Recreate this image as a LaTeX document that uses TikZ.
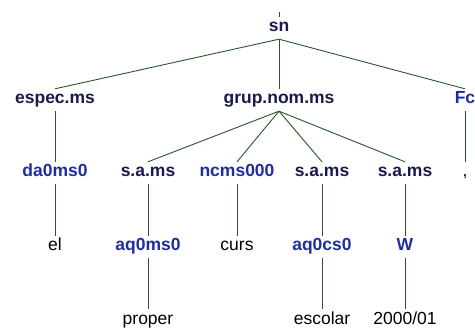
\documentclass[tikz,border=0pt]{standalone}
\usepackage{fontspec}
\setmainfont{Liberation Sans}
\definecolor{catcol}{RGB}{26,26,77}
\definecolor{tagcol}{RGB}{31,45,160}
\definecolor{linecol}{RGB}{40,85,40}
\tikzset{
mynode/.style={
  inner sep=0pt,
  text height=12pt,
  text depth=4pt,
  minimum height=22pt,
  font=\fontsize{17.5}{20}\selectfont
  },
cat/.style={mynode,text=catcol,font=\fontsize{17.5}{20}\selectfont\bfseries},
tag/.style={mynode,text=tagcol,font=\fontsize{17.5}{20}\selectfont\bfseries},
word/.style={mynode,text=black}
}
\begin{document}
\begin{tikzpicture}[x=1pt,y=-1pt]
\useasboundingbox (0,0) rectangle (475,329);

\coordinate (top) at (279,12);
\node[cat] (sn) at (279,28) {sn};

\node[cat] (espec) at (55,100) {espec.ms};
\node[cat] (grup) at (279,100) {grup.nom.ms};
\node[tag] (fc) at (465,100) {Fc};

\node[tag] (da) at (55,173) {da0ms0};
\node[cat] (sa1) at (148,173) {s.a.ms};
\node[tag] (nc) at (237,173) {ncms000};
\node[cat] (sa2) at (322,173) {s.a.ms};
\node[cat] (sa3) at (405,173) {s.a.ms};
\node[word] (comma) at (465,173) {,};

\node[word] (el) at (55,247) {el};
\node[tag] (aq1) at (148,247) {aq0ms0};
\node[word] (curs) at (237,247) {curs};
\node[tag] (aq2) at (322,247) {aq0cs0};
\node[tag] (w) at (405,247) {W};

\node[word] (proper) at (148,320) {proper};
\node[word] (escolar) at (322,320) {escolar};
\node[word] (date) at (405,320) {2000/01};

\begin{scope}[draw=linecol,line width=0.9pt]
\draw (top) -- (sn.north);
\draw (sn.south) -- (espec.north);
\draw (sn.south) -- (grup.north);
\draw (sn.south) -- (fc.north);

\draw (espec.south) -- (da.north);
\draw (grup.south) -- (sa1.north);
\draw (grup.south) -- (nc.north);
\draw (grup.south) -- (sa2.north);
\draw (grup.south) -- (sa3.north);
\draw (fc.south) -- (comma.north);

\draw (da.south) -- (el.north);
\draw (sa1.south) -- (aq1.north);
\draw (nc.south) -- (curs.north);
\draw (sa2.south) -- (aq2.north);
\draw (sa3.south) -- (w.north);

\draw (aq1.south) -- (proper.north);
\draw (aq2.south) -- (escolar.north);
\draw (w.south) -- (date.north);
\end{scope}
\end{tikzpicture}
\end{document}
